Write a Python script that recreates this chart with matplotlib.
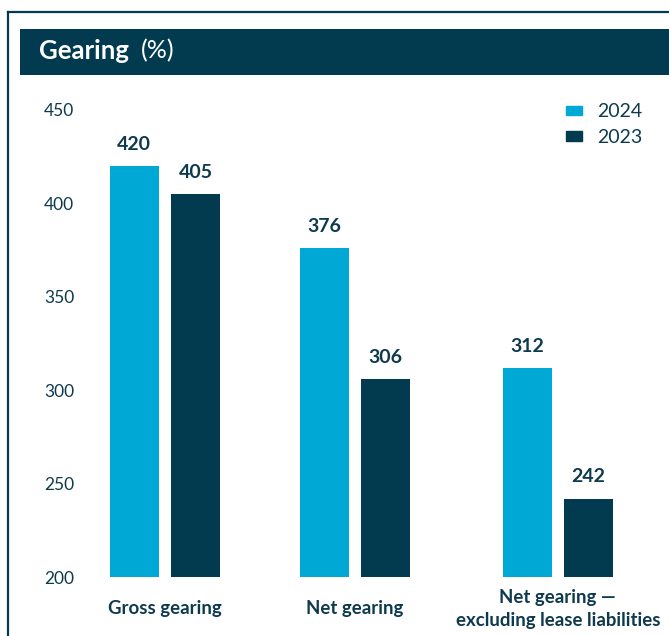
import matplotlib
matplotlib.use("Agg")
import matplotlib.pyplot as plt
from matplotlib.patches import Rectangle, Patch
from matplotlib.lines import Line2D
import numpy as np

plt.rcParams['font.family'] = ['Lato', 'DejaVu Sans']

categories = ["Gross gearing", "Net gearing", "Net gearing \u2014\nexcluding lease liabilities"]
years = ["2024", "2023"]
values_2024 = [420, 376, 312]
values_2023 = [405, 306, 242]
y_ticks = [200, 250, 300, 350, 400, 450]

DARK = "#023B50"
LIGHT = "#00A8D6"
TEXT = "#0E3A4E"

W, H = 669, 636
fig = plt.figure(figsize=(W / 100, H / 100), dpi=100)

# outer frame (left and top edges)
fig.add_artist(Line2D([8 / W, 8 / W], [0, 1 - 12 / H], color=DARK, lw=1.6))
fig.add_artist(Line2D([8 / W, 1], [1 - 12 / H, 1 - 12 / H], color=DARK, lw=1.6))

# title band
fig.add_artist(Rectangle((20 / W, 1 - 75 / H), 1, 46 / H, color=DARK, lw=0))
fig.text(39 / W, 1 - 51 / H, "Gearing", color="white", fontsize=18.5,
         fontweight="bold", va="center", ha="left")
fig.text(141 / W, 1 - 51 / H, "(%)", color="white", fontsize=18,
         va="center", ha="left")

ax = fig.add_axes([88 / W, (H - 577) / H, (W - 88) / W, (577 - 110) / H])
x = np.array([0.0, 1.0, 2.068])
bw = 0.258
off = 0.161
ax.bar(x - off, np.array(values_2024) - 200, bw, bottom=200, color=LIGHT, label=years[0])
ax.bar(x + off, np.array(values_2023) - 200, bw, bottom=200, color=DARK, label=years[1])

for xs, vals in ((x - off, values_2024), (x + off, values_2023)):
    for xi, v in zip(xs, vals):
        ax.text(xi, v + 7, f"{v}", ha="center", va="bottom", fontsize=14,
                fontweight="bold", color=TEXT)

ax.set_ylim(200, 450)
ax.set_xlim(-0.405, 2.653)
ax.set_yticks(y_ticks)
ax.set_yticklabels([str(v) for v in y_ticks], fontsize=12.5, color=TEXT)
ax.set_xticks(x)
ax.set_xticklabels(categories, fontsize=13.4, fontweight="bold", color=TEXT,
                   linespacing=1.45)
for lab in ax.get_xticklabels():
    lab.set_va("center")
ax.tick_params(axis="both", length=0)
ax.tick_params(axis="y", pad=10)
ax.tick_params(axis="x", pad=23)
for s in ax.spines.values():
    s.set_visible(False)

handles = [Patch(color=LIGHT), Patch(color=DARK)]
ax.legend(handles, years, loc="upper right", bbox_to_anchor=(0.985, 1.052),
          frameon=False, fontsize=14, handlelength=0.8, handleheight=0.35,
          handletextpad=0.8, labelspacing=0.45, labelcolor=TEXT)

fig.savefig("out.png", dpi=100)
